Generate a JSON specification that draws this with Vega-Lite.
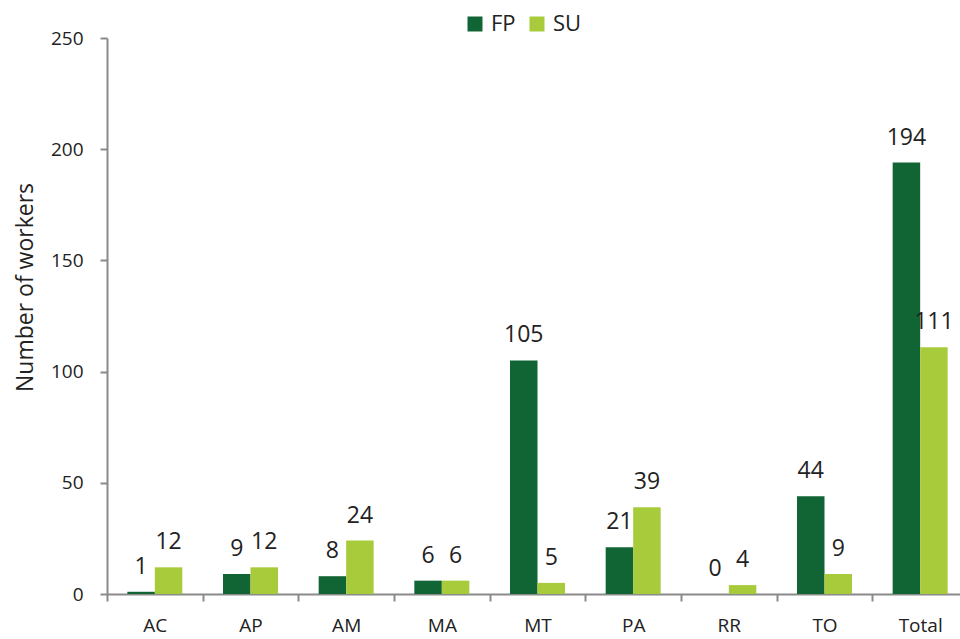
{
  "$schema": "https://vega.github.io/schema/vega-lite/v6.json",
  "autosize": "none",
  "width": 853,
  "height": 556,
  "padding": {"left": 107, "top": 38, "right": 0, "bottom": 45},
  "background": "white",
  "config": {
    "font": "Open Sans",
    "view": {"stroke": null},
    "axis": {"grid": false, "domainColor": "#8a8a8a", "domainWidth": 2, "tickColor": "#8a8a8a", "tickWidth": 2, "tickSize": 7, "labelColor": "#222222", "titleColor": "#222222"}
  },
  "data": {
    "values": [
      {"region": "AC", "type": "FP", "workers": 1},
      {"region": "AC", "type": "SU", "workers": 12},
      {"region": "AP", "type": "FP", "workers": 9},
      {"region": "AP", "type": "SU", "workers": 12},
      {"region": "AM", "type": "FP", "workers": 8},
      {"region": "AM", "type": "SU", "workers": 24},
      {"region": "MA", "type": "FP", "workers": 6},
      {"region": "MA", "type": "SU", "workers": 6},
      {"region": "MT", "type": "FP", "workers": 105},
      {"region": "MT", "type": "SU", "workers": 5},
      {"region": "PA", "type": "FP", "workers": 21},
      {"region": "PA", "type": "SU", "workers": 39},
      {"region": "RR", "type": "FP", "workers": 0},
      {"region": "RR", "type": "SU", "workers": 4},
      {"region": "TO", "type": "FP", "workers": 44},
      {"region": "TO", "type": "SU", "workers": 9},
      {"region": "Total", "type": "FP", "workers": 194},
      {"region": "Total", "type": "SU", "workers": 111}
    ]
  },
  "encoding": {
    "x": {
      "field": "region", "type": "nominal", "sort": null,
      "scale": {"range": [0, 861], "paddingInner": 0, "paddingOuter": 0},
      "axis": {"title": null, "labelAngle": 0, "labelFontSize": 19, "labelPadding": 15, "tickBand": "extent"}
    },
    "xOffset": {"field": "type", "type": "nominal", "sort": ["FP", "SU"], "scale": {"paddingInner": 0, "paddingOuter": 0.74}},
    "y": {
      "field": "workers", "type": "quantitative",
      "scale": {"domain": [0, 250], "nice": false},
      "axis": {"title": "Number of workers", "values": [0, 50, 100, 150, 200, 250], "labelFontSize": 19, "labelPadding": 17, "titleFontSize": 23, "titleFontWeight": "normal", "titleX": -75, "titleY": 249, "titleAngle": -90, "titleAlign": "center", "titleBaseline": "alphabetic"}
    }
  },
  "layer": [
    {
      "mark": {"type": "bar"},
      "encoding": {
        "color": {
          "field": "type", "type": "nominal", "sort": ["FP", "SU"],
          "scale": {"domain": ["FP", "SU"], "range": ["#116434", "#a8cb3c"]},
          "legend": {"title": null, "orient": "none", "direction": "horizontal", "legendX": 357, "legendY": -25, "symbolType": "square", "symbolSize": 225, "symbolStrokeWidth": 0, "labelFontSize": 22, "labelColor": "#222222", "labelOffset": 5, "columnPadding": 10, "padding": 0}
        }
      }
    },
    {
      "mark": {"type": "text", "baseline": "alphabetic", "dy": -18, "fontSize": 23, "color": "#222222"},
      "encoding": {"text": {"field": "workers", "type": "quantitative"}}
    }
  ]
}
